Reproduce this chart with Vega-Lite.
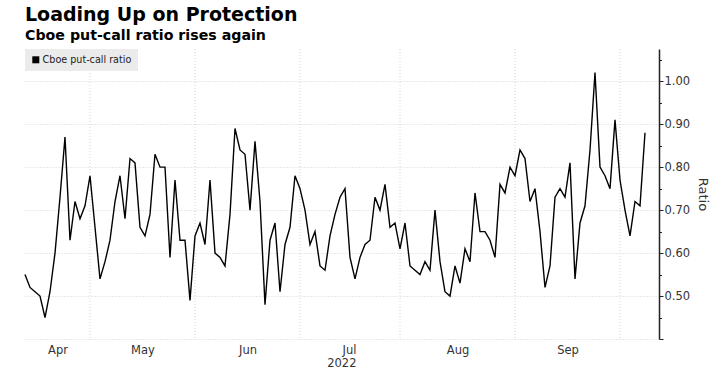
{
  "$schema": "https://vega.github.io/schema/vega-lite/v6.json",
  "width": 634,
  "height": 290,
  "padding": {"left": 22, "right": 5, "top": 6, "bottom": 0},
  "config": {"view": {"stroke": null}, "font": "DejaVu Sans"},
  "title": {
    "text": "Loading Up on Protection",
    "subtitle": "Cboe put-call ratio rises again",
    "anchor": "start",
    "frame": "group",
    "font": "DejaVu Sans",
    "fontSize": 19,
    "fontWeight": "bold",
    "color": "#000000",
    "subtitleFont": "DejaVu Sans",
    "subtitleFontSize": 14.2,
    "subtitleFontWeight": "bold",
    "subtitleColor": "#000000",
    "subtitlePadding": 4,
    "offset": 5
  },
  "datasets": {
    "series": [
      {"date": "2022-04-12", "day": 0, "ratio": 0.55},
      {"date": "2022-04-13", "day": 1, "ratio": 0.52},
      {"date": "2022-04-14", "day": 2, "ratio": 0.51},
      {"date": "2022-04-18", "day": 3, "ratio": 0.50},
      {"date": "2022-04-19", "day": 4, "ratio": 0.45},
      {"date": "2022-04-20", "day": 5, "ratio": 0.51},
      {"date": "2022-04-21", "day": 6, "ratio": 0.60},
      {"date": "2022-04-22", "day": 7, "ratio": 0.73},
      {"date": "2022-04-25", "day": 8, "ratio": 0.87},
      {"date": "2022-04-26", "day": 9, "ratio": 0.63},
      {"date": "2022-04-27", "day": 10, "ratio": 0.72},
      {"date": "2022-04-28", "day": 11, "ratio": 0.68},
      {"date": "2022-04-29", "day": 12, "ratio": 0.71},
      {"date": "2022-05-02", "day": 13, "ratio": 0.78},
      {"date": "2022-05-03", "day": 14, "ratio": 0.66},
      {"date": "2022-05-04", "day": 15, "ratio": 0.54},
      {"date": "2022-05-05", "day": 16, "ratio": 0.58},
      {"date": "2022-05-06", "day": 17, "ratio": 0.63},
      {"date": "2022-05-09", "day": 18, "ratio": 0.72},
      {"date": "2022-05-10", "day": 19, "ratio": 0.78},
      {"date": "2022-05-11", "day": 20, "ratio": 0.68},
      {"date": "2022-05-12", "day": 21, "ratio": 0.82},
      {"date": "2022-05-13", "day": 22, "ratio": 0.81},
      {"date": "2022-05-16", "day": 23, "ratio": 0.66},
      {"date": "2022-05-17", "day": 24, "ratio": 0.64},
      {"date": "2022-05-18", "day": 25, "ratio": 0.69},
      {"date": "2022-05-19", "day": 26, "ratio": 0.83},
      {"date": "2022-05-20", "day": 27, "ratio": 0.80},
      {"date": "2022-05-23", "day": 28, "ratio": 0.80},
      {"date": "2022-05-24", "day": 29, "ratio": 0.59},
      {"date": "2022-05-25", "day": 30, "ratio": 0.77},
      {"date": "2022-05-26", "day": 31, "ratio": 0.63},
      {"date": "2022-05-27", "day": 32, "ratio": 0.63},
      {"date": "2022-05-31", "day": 33, "ratio": 0.49},
      {"date": "2022-06-01", "day": 34, "ratio": 0.64},
      {"date": "2022-06-02", "day": 35, "ratio": 0.67},
      {"date": "2022-06-03", "day": 36, "ratio": 0.62},
      {"date": "2022-06-06", "day": 37, "ratio": 0.77},
      {"date": "2022-06-07", "day": 38, "ratio": 0.60},
      {"date": "2022-06-08", "day": 39, "ratio": 0.59},
      {"date": "2022-06-09", "day": 40, "ratio": 0.57},
      {"date": "2022-06-10", "day": 41, "ratio": 0.69},
      {"date": "2022-06-13", "day": 42, "ratio": 0.89},
      {"date": "2022-06-14", "day": 43, "ratio": 0.84},
      {"date": "2022-06-15", "day": 44, "ratio": 0.83},
      {"date": "2022-06-16", "day": 45, "ratio": 0.70},
      {"date": "2022-06-17", "day": 46, "ratio": 0.86},
      {"date": "2022-06-21", "day": 47, "ratio": 0.72},
      {"date": "2022-06-22", "day": 48, "ratio": 0.48},
      {"date": "2022-06-23", "day": 49, "ratio": 0.63},
      {"date": "2022-06-24", "day": 50, "ratio": 0.67},
      {"date": "2022-06-27", "day": 51, "ratio": 0.51},
      {"date": "2022-06-28", "day": 52, "ratio": 0.62},
      {"date": "2022-06-29", "day": 53, "ratio": 0.66},
      {"date": "2022-06-30", "day": 54, "ratio": 0.78},
      {"date": "2022-07-01", "day": 55, "ratio": 0.75},
      {"date": "2022-07-05", "day": 56, "ratio": 0.70},
      {"date": "2022-07-06", "day": 57, "ratio": 0.62},
      {"date": "2022-07-07", "day": 58, "ratio": 0.65},
      {"date": "2022-07-08", "day": 59, "ratio": 0.57},
      {"date": "2022-07-11", "day": 60, "ratio": 0.56},
      {"date": "2022-07-12", "day": 61, "ratio": 0.64},
      {"date": "2022-07-13", "day": 62, "ratio": 0.69},
      {"date": "2022-07-14", "day": 63, "ratio": 0.73},
      {"date": "2022-07-15", "day": 64, "ratio": 0.75},
      {"date": "2022-07-18", "day": 65, "ratio": 0.59},
      {"date": "2022-07-19", "day": 66, "ratio": 0.54},
      {"date": "2022-07-20", "day": 67, "ratio": 0.59},
      {"date": "2022-07-21", "day": 68, "ratio": 0.62},
      {"date": "2022-07-22", "day": 69, "ratio": 0.63},
      {"date": "2022-07-25", "day": 70, "ratio": 0.73},
      {"date": "2022-07-26", "day": 71, "ratio": 0.70},
      {"date": "2022-07-27", "day": 72, "ratio": 0.76},
      {"date": "2022-07-28", "day": 73, "ratio": 0.66},
      {"date": "2022-07-29", "day": 74, "ratio": 0.67},
      {"date": "2022-08-01", "day": 75, "ratio": 0.61},
      {"date": "2022-08-02", "day": 76, "ratio": 0.67},
      {"date": "2022-08-03", "day": 77, "ratio": 0.57},
      {"date": "2022-08-04", "day": 78, "ratio": 0.56},
      {"date": "2022-08-05", "day": 79, "ratio": 0.55},
      {"date": "2022-08-08", "day": 80, "ratio": 0.58},
      {"date": "2022-08-09", "day": 81, "ratio": 0.56},
      {"date": "2022-08-10", "day": 82, "ratio": 0.70},
      {"date": "2022-08-11", "day": 83, "ratio": 0.58},
      {"date": "2022-08-12", "day": 84, "ratio": 0.51},
      {"date": "2022-08-15", "day": 85, "ratio": 0.50},
      {"date": "2022-08-16", "day": 86, "ratio": 0.57},
      {"date": "2022-08-17", "day": 87, "ratio": 0.53},
      {"date": "2022-08-18", "day": 88, "ratio": 0.61},
      {"date": "2022-08-19", "day": 89, "ratio": 0.58},
      {"date": "2022-08-22", "day": 90, "ratio": 0.74},
      {"date": "2022-08-23", "day": 91, "ratio": 0.65},
      {"date": "2022-08-24", "day": 92, "ratio": 0.65},
      {"date": "2022-08-25", "day": 93, "ratio": 0.63},
      {"date": "2022-08-26", "day": 94, "ratio": 0.59},
      {"date": "2022-08-29", "day": 95, "ratio": 0.76},
      {"date": "2022-08-30", "day": 96, "ratio": 0.74},
      {"date": "2022-08-31", "day": 97, "ratio": 0.80},
      {"date": "2022-09-01", "day": 98, "ratio": 0.78},
      {"date": "2022-09-02", "day": 99, "ratio": 0.84},
      {"date": "2022-09-06", "day": 100, "ratio": 0.82},
      {"date": "2022-09-07", "day": 101, "ratio": 0.72},
      {"date": "2022-09-08", "day": 102, "ratio": 0.75},
      {"date": "2022-09-09", "day": 103, "ratio": 0.65},
      {"date": "2022-09-12", "day": 104, "ratio": 0.52},
      {"date": "2022-09-13", "day": 105, "ratio": 0.57},
      {"date": "2022-09-14", "day": 106, "ratio": 0.73},
      {"date": "2022-09-15", "day": 107, "ratio": 0.75},
      {"date": "2022-09-16", "day": 108, "ratio": 0.73},
      {"date": "2022-09-19", "day": 109, "ratio": 0.81},
      {"date": "2022-09-20", "day": 110, "ratio": 0.54},
      {"date": "2022-09-21", "day": 111, "ratio": 0.67},
      {"date": "2022-09-22", "day": 112, "ratio": 0.71},
      {"date": "2022-09-23", "day": 113, "ratio": 0.84},
      {"date": "2022-09-26", "day": 114, "ratio": 1.02},
      {"date": "2022-09-27", "day": 115, "ratio": 0.80},
      {"date": "2022-09-28", "day": 116, "ratio": 0.78},
      {"date": "2022-09-29", "day": 117, "ratio": 0.75},
      {"date": "2022-09-30", "day": 118, "ratio": 0.91},
      {"date": "2022-10-03", "day": 119, "ratio": 0.77},
      {"date": "2022-10-04", "day": 120, "ratio": 0.70},
      {"date": "2022-10-05", "day": 121, "ratio": 0.64},
      {"date": "2022-10-06", "day": 122, "ratio": 0.72},
      {"date": "2022-10-07", "day": 123, "ratio": 0.71},
      {"date": "2022-10-10", "day": 124, "ratio": 0.88}
    ],
    "months": [
      {"month": "May", "start": 13},
      {"month": "Jun", "start": 34},
      {"month": "Jul", "start": 55},
      {"month": "Aug", "start": 75},
      {"month": "Sep", "start": 98},
      {"month": "Oct", "start": 119}
    ]
  },
  "layer": [
    {
      "data": {"name": "months"},
      "mark": {"type": "rule", "color": "#d4d4d4", "strokeWidth": 1, "strokeDash": [1, 2]},
      "encoding": {
        "x": {"field": "start", "type": "quantitative", "title": null}
      }
    },
    {
      "data": {"name": "series"},
      "mark": {"type": "line", "strokeWidth": 1.4, "interpolate": "linear"},
      "encoding": {
        "x": {
          "field": "day",
          "type": "quantitative",
          "title": null,
          "scale": {"domain": [0, 126.8], "nice": false, "zero": false},
          "axis": {
            "values": [6.5, 23.5, 44.5, 66.2, 86.5, 108.5],
            "labelExpr": "datum.value < 10 ? 'Apr' : datum.value < 30 ? 'May' : datum.value < 50 ? 'Jun' : datum.value < 70 ? ['Jul', '2022'] : datum.value < 90 ? 'Aug' : 'Sep'",
            "labelAlign": {"condition": {"test": "datum.value > 60 && datum.value < 70", "value": "right"}, "value": "center"},
            "labelLineHeight": 13,
            "labelFontSize": 11.5,
            "labelColor": "#333333",
            "labelPadding": 5,
            "labelOverlap": false,
            "labelBound": false,
            "labelFlush": false,
            "domain": false,
            "ticks": false,
            "grid": false
          }
        },
        "y": {
          "field": "ratio",
          "type": "quantitative",
          "title": "Ratio",
          "scale": {"domain": [0.4, 1.075], "nice": false, "zero": false},
          "axis": {
            "orient": "right",
            "values": [0.4, 0.45, 0.5, 0.55, 0.6, 0.65, 0.7, 0.75, 0.8, 0.85, 0.9, 0.95, 1.0, 1.05],
            "labelExpr": "(round(datum.value * 100) % 10 == 0 && datum.value > 0.45) ? format(datum.value, '.2f') : ''",
            "grid": true,
            "gridColor": "#d4d4d4",
            "gridDash": [1, 2],
            "gridOpacity": {"condition": {"test": "round(datum.value * 100) % 10 != 0", "value": 0}, "value": 1},
            "domainColor": "#222222",
            "domainWidth": 1.5,
            "tickColor": "#222222",
            "tickWidth": 1,
            "tickSize": {"condition": {"test": "round(datum.value * 100) % 10 != 0", "value": 2.5}, "value": 4},
            "labelFontSize": 11.5,
            "labelColor": "#333333",
            "labelPadding": 1,
            "labelOverlap": false,
            "labelBound": false,
            "labelFlush": false,
            "titleFontSize": 13,
            "titleFontWeight": "normal",
            "titleColor": "#333333",
            "titlePadding": 6
          }
        },
        "color": {
          "datum": "Cboe put-call ratio",
          "type": "nominal",
          "scale": {"range": ["#000000"]},
          "legend": {
            "orient": "top-left",
            "title": null,
            "offset": 0,
            "padding": 6,
            "fillColor": "#ebebeb",
            "symbolType": "square",
            "symbolSize": 49,
            "symbolOffset": 0,
            "symbolFillColor": "#000000",
            "symbolStrokeColor": "#000000",
            "symbolStrokeWidth": 0,
            "labelFont": "DejaVu Sans",
            "labelFontSize": 9.6,
            "labelColor": "#222222",
            "labelOffset": 2
          }
        }
      }
    }
  ]
}
